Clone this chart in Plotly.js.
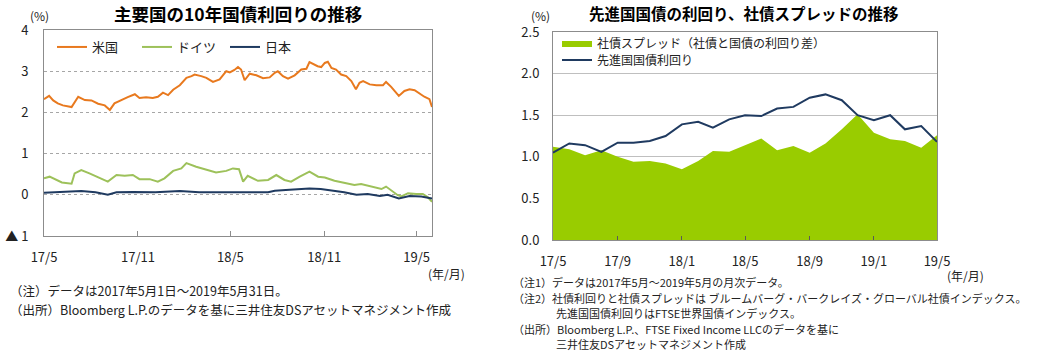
<!DOCTYPE html>
<html><head><meta charset="utf-8">
<script src="https://cdn.plot.ly/plotly-3.0.1.min.js"></script>
<style>html,body{margin:0;padding:0;background:#fff}</style>
</head><body><div id="chart" style="width:1045px;height:354px"></div>
<script>
// ---------- Left chart: 10-year government bond yields (%) ----------
const usDates = ['2017-05-01','2017-05-11','2017-05-19','2017-05-28','2017-06-07','2017-06-17','2017-06-24','2017-07-07','2017-07-20','2017-08-02','2017-08-15','2017-08-28','2017-09-07','2017-09-16','2017-10-03','2017-10-12','2017-10-26','2017-11-04','2017-11-17','2017-11-30','2017-12-10','2017-12-20','2017-12-30','2018-01-09','2018-01-22','2018-02-04','2018-02-14','2018-02-20','2018-03-05','2018-03-15','2018-03-28','2018-04-10','2018-04-23','2018-04-30','2018-05-09','2018-05-16','2018-05-22','2018-05-29','2018-06-08','2018-06-21','2018-07-04','2018-07-17','2018-07-27','2018-08-02','2018-08-12','2018-08-22','2018-09-04','2018-09-17','2018-09-27','2018-10-03','2018-10-19','2018-10-26','2018-11-02','2018-11-08','2018-11-15','2018-11-24','2018-12-04','2018-12-14','2018-12-24','2019-01-02','2019-01-09','2019-01-16','2019-01-29','2019-02-11','2019-02-24','2019-03-02','2019-03-12','2019-03-22','2019-03-27','2019-04-07','2019-04-17','2019-04-27','2019-05-09','2019-05-16','2019-05-26','2019-05-31'];
const usYield = [2.32,2.40,2.29,2.22,2.17,2.14,2.13,2.38,2.30,2.29,2.21,2.17,2.06,2.22,2.33,2.37,2.44,2.35,2.37,2.35,2.38,2.48,2.42,2.55,2.66,2.84,2.88,2.92,2.88,2.84,2.74,2.80,3.00,2.97,3.03,3.10,3.04,2.78,2.94,2.90,2.83,2.85,2.96,3.00,2.88,2.82,2.90,3.04,3.06,3.22,3.12,3.10,3.20,3.23,3.08,3.04,2.92,2.88,2.76,2.56,2.72,2.76,2.68,2.66,2.66,2.74,2.62,2.46,2.40,2.52,2.56,2.54,2.44,2.38,2.32,2.13];

const deDates = ['2017-05-01','2017-05-12','2017-06-05','2017-06-24','2017-06-30','2017-07-13','2017-07-29','2017-08-15','2017-09-03','2017-09-20','2017-10-06','2017-10-22','2017-11-04','2017-11-24','2017-12-10','2017-12-23','2018-01-09','2018-01-25','2018-02-04','2018-02-23','2018-03-15','2018-04-03','2018-04-23','2018-05-06','2018-05-18','2018-05-26','2018-06-04','2018-06-24','2018-07-14','2018-07-30','2018-08-15','2018-08-28','2018-09-14','2018-10-03','2018-10-20','2018-11-02','2018-11-21','2018-12-11','2018-12-30','2019-01-12','2019-02-01','2019-02-21','2019-03-02','2019-03-15','2019-03-25','2019-04-01','2019-04-14','2019-04-30','2019-05-13','2019-05-23','2019-05-31'];
const deYield = [0.40,0.44,0.30,0.27,0.52,0.60,0.52,0.42,0.32,0.48,0.46,0.48,0.38,0.38,0.32,0.40,0.58,0.64,0.77,0.68,0.60,0.54,0.58,0.64,0.62,0.32,0.46,0.34,0.36,0.48,0.36,0.32,0.44,0.56,0.44,0.42,0.34,0.28,0.24,0.26,0.20,0.14,0.20,0.08,-0.01,-0.04,0.04,0.02,0.02,-0.06,-0.17];

const jpDates = ['2017-05-01','2017-06-15','2017-07-13','2017-08-10','2017-09-03','2017-09-20','2017-10-22','2017-12-05','2018-01-22','2018-03-01','2018-04-15','2018-05-20','2018-07-14','2018-07-27','2018-08-25','2018-09-20','2018-10-03','2018-10-25','2018-11-15','2018-12-10','2019-01-03','2019-01-25','2019-02-18','2019-03-05','2019-03-27','2019-04-17','2019-05-10','2019-05-31'];
const jpYield = [0.05,0.07,0.09,0.06,0.00,0.06,0.07,0.06,0.09,0.06,0.05,0.06,0.06,0.10,0.12,0.13,0.15,0.14,0.11,0.06,0.00,0.02,-0.03,0.00,-0.09,-0.03,-0.04,-0.09];

const leftTickVals = ['2017-05-01','2017-11-01','2018-05-01','2018-11-01','2019-05-01'];
const leftTickText = ['17/5','17/11','18/5','18/11','19/5'];
const leftYVals = [-1,0,1,2,3,4];
const leftYText = ['▲ 1','0','1','2','3','4'];

// ---------- Right chart: monthly data (%) ----------
const months = ['2017-05-01','2017-06-01','2017-07-01','2017-08-01','2017-09-01','2017-10-01','2017-11-01','2017-12-01','2018-01-01','2018-02-01','2018-03-01','2018-04-01','2018-05-01','2018-06-01','2018-07-01','2018-08-01','2018-09-01','2018-10-01','2018-11-01','2018-12-01','2019-01-01','2019-02-01','2019-03-01','2019-04-01','2019-05-01'];
const corpSpread = [1.12,1.09,1.02,1.08,1.00,0.94,0.95,0.92,0.85,0.95,1.07,1.06,1.14,1.22,1.08,1.13,1.05,1.16,1.33,1.51,1.29,1.21,1.19,1.11,1.26];
const govYield = [1.05,1.16,1.14,1.06,1.17,1.17,1.19,1.25,1.39,1.42,1.35,1.45,1.50,1.49,1.58,1.60,1.71,1.75,1.68,1.50,1.44,1.50,1.33,1.37,1.18];
const rightTickVals = ['2017-05-01','2017-09-01','2018-01-01','2018-05-01','2018-09-01','2019-01-01','2019-05-01'];
const rightTickText = ['17/5','17/9','18/1','18/5','18/9','19/1','19/5'];
const rightYVals = [0,0.5,1,1.5,2,2.5];

const W = 1045, H = 354;
const px = x => x / W;
const py = y => 1 - y / H;
const FONT = '"Noto Sans CJK JP", "Noto Sans", sans-serif';

const traces = [
  {type:'scatter', mode:'lines', name:'米国', x:usDates, y:usYield, xaxis:'x', yaxis:'y', line:{color:'#E8791E', width:2}, legend:'legend'},
  {type:'scatter', mode:'lines', name:'ドイツ', x:deDates, y:deYield, xaxis:'x', yaxis:'y', line:{color:'#9DC15A', width:2}, legend:'legend3'},
  {type:'scatter', mode:'lines', name:'日本', x:jpDates, y:jpYield, xaxis:'x', yaxis:'y', line:{color:'#1F3A60', width:2}, legend:'legend4'},
  {type:'scatter', mode:'lines', name:'社債スプレッド（社債と国債の利回り差）', x:months, y:corpSpread, xaxis:'x2', yaxis:'y2', fill:'tozeroy', fillcolor:'#99CC00', line:{width:0, color:'#99CC00'}, legend:'legend2'},
  {type:'scatter', mode:'lines', name:'先進国国債利回り', x:months, y:govYield, xaxis:'x2', yaxis:'y2', line:{color:'#1F3A60', width:2}, legend:'legend5'}
];

function note(text, x, y, opts) {
  return Object.assign({text:text, x:px(x), y:py(y), xref:'paper', yref:'paper', showarrow:false, xanchor:'left', yanchor:'middle', align:'left', font:{family:FONT, size:12, color:'#222'}}, opts || {});
}
const small = {font:{family:FONT, size:11, color:'#222'}};
const foot = {font:{family:FONT, size:12.5, color:'#222'}};

const annotations = [
  note('<b>主要国の10年国債利回りの推移</b>', 238, 13, {xanchor:'center', font:{family:FONT, size:17.5, color:'#000'}}),
  note('<b>先進国国債の利回り、社債スプレッドの推移</b>', 744, 13, {xanchor:'center', font:{family:FONT, size:15.5, color:'#000'}}),
  note('(%)', 39, 15, {xanchor:'center'}),
  note('(%)', 540, 15, {xanchor:'center'}),
  note('(年/月)', 446, 273, {xanchor:'center'}),
  note('(年/月)', 965, 275, {xanchor:'center'}),
  note('（注）データは2017年5月1日～2019年5月31日。', 8, 290.5, foot),
  note('（出所）Bloomberg L.P.のデータを基に三井住友DSアセットマネジメント作成', 8, 309, foot),
  note('（注1）データは2017年5月～2019年5月の月次データ。', 511, 282, small),
  note('（注2）社債利回りと社債スプレッドは ブルームバーグ・バークレイズ・グローバル社債インデックス。', 511, 297.5, small),
  note('先進国国債利回りはFTSE世界国債インデックス。', 554, 313, small),
  note('（出所）Bloomberg L.P.、FTSE Fixed Income LLCのデータを基に', 511, 328.5, small),
  note('三井住友DSアセットマネジメント作成', 554, 344, small)
];

const axisCommon = {showline:true, mirror:true, linecolor:'#8C8C8C', linewidth:1, zeroline:false, tickfont:{family:FONT, size:13, color:'#222'}, fixedrange:true};
function leg(x, y, size) {
  return {orientation:'v', x:px(x), y:py(y), xanchor:'left', yanchor:'middle', bgcolor:'rgba(0,0,0,0)', font:{family:FONT, size:size, color:'#222'}, itemwidth:30};
}

const layout = {
  width: W, height: H,
  margin:{l:0, r:0, t:0, b:0},
  paper_bgcolor:'#fff', plot_bgcolor:'#fff',
  font:{family:FONT, color:'#222'},
  showlegend:true,
  xaxis: Object.assign({}, axisCommon, {type:'date', domain:[px(44), px(432)], anchor:'y', range:['2017-05-01','2019-05-31'], tickvals:leftTickVals, ticktext:leftTickText, ticks:'inside', ticklen:5, tickcolor:'#8C8C8C', showgrid:false, ticklabelstandoff:9}),
  yaxis: Object.assign({}, axisCommon, {domain:[py(236), py(30)], anchor:'x', range:[-1,4], tickvals:leftYVals, ticktext:leftYText, showgrid:true, gridcolor:'#A6A6A6', griddash:'dot', gridwidth:1, ticks:'', ticklabelstandoff:12}),
  xaxis2: Object.assign({}, axisCommon, {type:'date', domain:[px(553), px(937)], anchor:'y2', range:['2017-05-01','2019-05-01'], tickvals:rightTickVals, ticktext:rightTickText, ticks:'inside', ticklen:4, tickcolor:'#595959', showgrid:false, ticklabelstandoff:9}),
  yaxis2: Object.assign({}, axisCommon, {domain:[py(240), py(32)], anchor:'x2', range:[0,2.5], tickvals:rightYVals, tickformat:'.1f', showgrid:true, gridcolor:'#BFBFBF', gridwidth:1, ticks:'', ticklabelstandoff:10}),
  legend: leg(52, 47, 13),
  legend3: leg(137, 47, 13),
  legend4: leg(225, 47, 13),
  legend2: leg(557, 43, 12),
  legend5: leg(557, 60, 12),
  annotations: annotations
};

Plotly.newPlot('chart', traces, layout, {displayModeBar:false, staticPlot:true});
</script>
</body></html>
